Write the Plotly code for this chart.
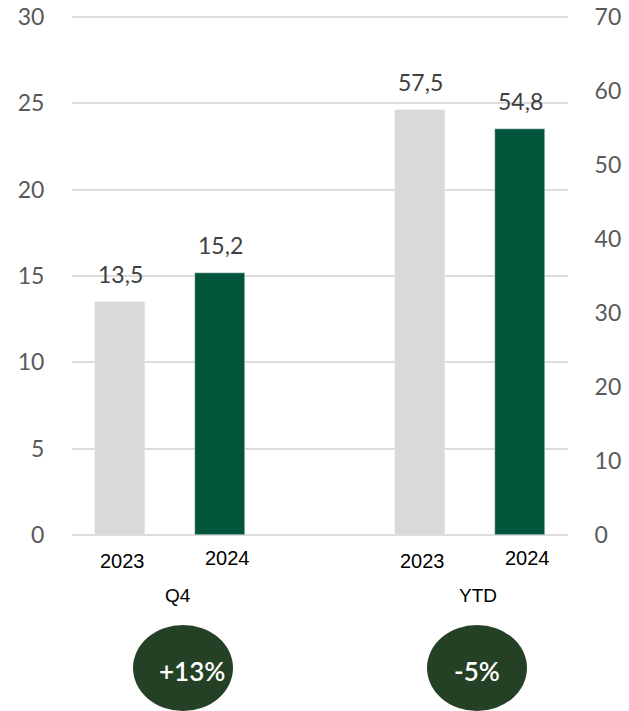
import plotly.graph_objects as go

# Sales figures per period (left axis: Q4, right axis: YTD)
periods = ["Q4", "YTD"]
years = ["2023", "2024"]
q4_values = [13.5, 15.2]
ytd_values = [57.5, 54.8]
changes = ["+13%", "-5%"]
left_ticks = [0, 5, 10, 15, 20, 25, 30]
right_ticks = [0, 10, 20, 30, 40, 50, 60, 70]

# x slots for the bars: Q4 pair on the left, YTD pair on the right
q4_x = [0, 1]
ytd_x = [3, 4]

GREY = "#d9d9d9"
GREEN = "#02553b"
BADGE = "#254125"
NUM_FONT = "Lato, Noto Sans, sans-serif"
CAT_FONT = "Liberation Sans, Arial, sans-serif"
TICK_FONT = dict(family=NUM_FONT, size=23, color="#595959")

# plot area in pixels; the value range is padded by 3px on each side so the
# outermost gridlines (0 and 30) are drawn inside the plot
EDGE = 3
PL, PR, PT, PB = 72, 568, 17 - EDGE, 535 + EDGE
PAD = EDGE / 518


def fmt(v):
    return f"{v:.1f}".replace(".", ",")


def px_to_paper(px, py):
    return (px - PL) / (PR - PL), (PB - py) / (PB - PT)


fig = go.Figure()
fig.add_trace(go.Bar(x=q4_x, y=q4_values, marker_color=[GREY, GREEN],
                     width=0.5, yaxis="y", showlegend=False, hoverinfo="skip"))
fig.add_trace(go.Bar(x=ytd_x, y=ytd_values, marker_color=[GREY, GREEN],
                     width=0.5, yaxis="y2", showlegend=False, hoverinfo="skip"))

annotations = []
# value labels above bars
for xs, vals, yref in ((q4_x, q4_values, "y"), (ytd_x, ytd_values, "y2")):
    for x, v in zip(xs, vals):
        annotations.append(dict(x=x, y=v, xref="x", yref=yref, text=fmt(v),
                                showarrow=False, xanchor="center", yanchor="bottom",
                                yshift=12, font=dict(family=NUM_FONT, size=23,
                                                     color="#404040")))
# year labels under bars (2024 sits slightly higher)
for xs in (q4_x, ytd_x):
    for x, yr, dx, py in zip(xs, years, (0.02, 0.07), (561, 558)):
        annotations.append(dict(x=x + dx, y=px_to_paper(0, py)[1], xref="x", yref="paper",
                                text=yr, showarrow=False, xanchor="center",
                                yanchor="middle",
                                font=dict(family=CAT_FONT, size=20, color="#000000")))
# period labels
for xs, p in zip((q4_x, ytd_x), periods):
    annotations.append(dict(x=(xs[0] + xs[1]) / 2 + 0.08, y=px_to_paper(0, 595)[1],
                            xref="x", yref="paper", text=p, showarrow=False,
                            xanchor="center", yanchor="middle",
                            font=dict(family=CAT_FONT, size=19, color="#000000")))

# change badges
shapes = []
for cx in (183, 477):
    x0, y0 = px_to_paper(cx - 50, 711)
    x1, y1 = px_to_paper(cx + 50, 625)
    shapes.append(dict(type="circle", xref="paper", yref="paper", x0=x0, x1=x1,
                       y0=y0, y1=y1, fillcolor=BADGE, line=dict(width=0),
                       layer="above"))
for cx, txt in zip((192, 477), changes):
    bx, by = px_to_paper(cx, 671)
    annotations.append(dict(x=bx, y=by, xref="paper", yref="paper", text=txt,
                            showarrow=False, xanchor="center", yanchor="middle",
                            font=dict(family=NUM_FONT, size=26, color="#ffffff",
                                      weight=600)))

fig.update_layout(
    width=629, height=711,
    margin=dict(l=PL, r=629 - PR, t=PT, b=711 - PB, autoexpand=False),
    paper_bgcolor="white", plot_bgcolor="white",
    xaxis=dict(range=[-0.48, 4.48], showticklabels=False, showgrid=False,
               zeroline=False, showline=False, fixedrange=True, automargin=False),
    yaxis=dict(range=[-30 * PAD, 30 * (1 + PAD)], tickvals=left_ticks, showgrid=True,
               gridcolor="#dcdcdc", gridwidth=2, zeroline=False, automargin=False,
               ticks="outside", ticklen=22, tickcolor="rgba(0,0,0,0)",
               tickfont=TICK_FONT),
    yaxis2=dict(range=[-70 * PAD, 70 * (1 + PAD)], tickvals=right_ticks,
                overlaying="y", side="right",
                showgrid=False, zeroline=False, automargin=False,
                ticks="outside", ticklen=21, tickcolor="rgba(0,0,0,0)",
                tickfont=TICK_FONT),
    annotations=annotations,
    shapes=shapes,
    bargap=0,
)

fig.write_html("out.html")
